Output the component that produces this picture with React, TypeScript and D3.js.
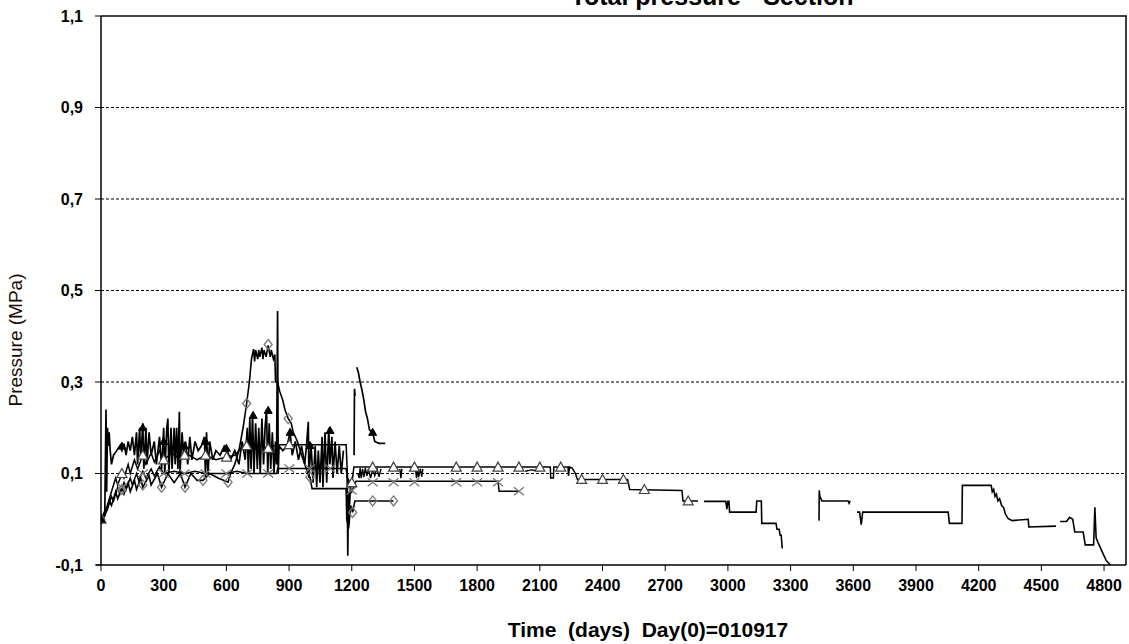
import React, { useEffect, useRef } from 'react';
import * as d3 from 'd3';

type P = [number, number | null];

const TITLE = 'Total pressure - Section';
const X_TITLE = 'Time  (days)  Day(0)=010917';
const Y_TITLE = 'Pressure (MPa)';
const X_TICKS = [0, 300, 600, 900, 1200, 1500, 1800, 2100, 2400, 2700, 3000, 3300, 3600, 3900, 4200, 4500, 4800];
const Y_TICKS = [-0.1, 0.1, 0.3, 0.5, 0.7, 0.9, 1.1];
const GRID = [0.1, 0.3, 0.5, 0.7, 0.9];

// diamond series
const diamondLine: P[] = [
  [0, 0.0], [10, 0.0], [20, 0.01], [40, 0.04], [50, 0.03], [70, 0.06], [80, 0.045], [100, 0.07], [110, 0.055],
  [130, 0.08], [140, 0.06], [160, 0.085], [170, 0.065], [190, 0.09], [200, 0.07], [230, 0.095], [240, 0.075],
  [270, 0.1], [290, 0.07], [320, 0.1], [350, 0.08], [380, 0.1], [402, 0.07], [430, 0.1], [460, 0.085], [488, 0.085],
  [520, 0.1], [560, 0.09], [608, 0.081], [620, 0.1], [640, 0.12], [660, 0.15], [680, 0.2], [697, 0.253], [710, 0.3],
  [720, 0.35], [730, 0.372], [735, 0.345], [740, 0.37], [750, 0.35], [755, 0.37], [760, 0.355], [770, 0.375],
  [775, 0.35], [780, 0.37], [790, 0.355], [800, 0.38], [810, 0.355], [815, 0.37], [825, 0.35], [832, 0.36],
  [835, 0.3], [845, 0.3], [855, 0.28], [870, 0.26], [880, 0.24], [896, 0.22],
  [910, 0.21], [920, 0.19], [940, 0.17], [960, 0.14], [975, 0.12], [990, 0.1], [1000, 0.092], [1010, 0.067],
  [1173, 0.067], [1176, 0.0], [1185, -0.02], [1195, 0.03], [1204, 0.015], [1215, 0.04], [1400, 0.04]
];
const diamondMarks: P[] = [
  [0, 0.0], [100, 0.065], [200, 0.075], [290, 0.07], [402, 0.07], [488, 0.085], [608, 0.081], [697, 0.253],
  [800, 0.382], [896, 0.22], [1000, 0.092], [1204, 0.015], [1300, 0.04], [1400, 0.04]
];

// x series
const crossLine: P[] = [
  [0, 0.0], [30, 0.02], [50, 0.05], [60, 0.04], [80, 0.07], [90, 0.055], [110, 0.08], [120, 0.065], [140, 0.09],
  [150, 0.075], [170, 0.1], [180, 0.085], [200, 0.105], [215, 0.09], [240, 0.11], [255, 0.095], [280, 0.115],
  [300, 0.1], [350, 0.105], [400, 0.1], [450, 0.105], [500, 0.1], [550, 0.1], [600, 0.1], [650, 0.105],
  [700, 0.1], [800, 0.1], [841, 0.1], [845, 0.111], [1173, 0.111], [1180, 0.085], [1200, 0.06], [1220, 0.083],
  [1900, 0.083], [1905, 0.061], [2000, 0.061]
];
const crossMarks: P[] = [
  [100, 0.07], [200, 0.1], [300, 0.1], [400, 0.1], [500, 0.1], [600, 0.1], [700, 0.1], [800, 0.1],
  [901, 0.111], [1000, 0.111], [1097, 0.111], [1200, 0.063], [1300, 0.081], [1400, 0.081], [1500, 0.081],
  [1700, 0.081], [1800, 0.081], [1900, 0.081], [2000, 0.061]
];

// open triangle series
const triLine: P[] = [
  [0, 0.0], [30, 0.03], [50, 0.06], [70, 0.09], [80, 0.075], [100, 0.1], [110, 0.09], [130, 0.12], [140, 0.1],
  [160, 0.13], [175, 0.11], [200, 0.14], [215, 0.12], [240, 0.145], [255, 0.125], [280, 0.15], [300, 0.13],
  [340, 0.145], [380, 0.13], [420, 0.14], [460, 0.13], [500, 0.14], [550, 0.13], [601, 0.136], [640, 0.14],
  [680, 0.16], [697, 0.161], [720, 0.15], [760, 0.16], [800, 0.155], [841, 0.163], [1173, 0.163], [1180, 0.09],
  [1200, 0.075], [1210, 0.114], [2150, 0.114], [2152, 0.09], [2165, 0.09], [2167, 0.114], [2235, 0.114],
  [2237, 0.095], [2242, 0.114], [2255, 0.112], [2270, 0.1], [2280, 0.087], [2520, 0.087], [2530, 0.065],
  [2780, 0.063], [2785, 0.04], [2857, 0.04]
];
const triMarks: P[] = [
  [0, 0.0], [100, 0.1], [200, 0.14], [300, 0.13], [400, 0.14], [500, 0.14], [601, 0.136], [697, 0.161],
  [800, 0.155], [901, 0.163], [1200, 0.08], [1300, 0.114], [1400, 0.114], [1500, 0.114], [1700, 0.114],
  [1800, 0.114], [1900, 0.114], [2000, 0.114], [2100, 0.114], [2200, 0.114], [2300, 0.087], [2400, 0.087],
  [2500, 0.087], [2600, 0.065], [2810, 0.04]
];

// filled triangle series (dense)
const fillLine: P[] = [
  [0, 0.0], [12, 0.0], [18, 0.01], [24, 0.24], [27, 0.06], [31, 0.2], [35, 0.16], [39, 0.19], [44, 0.15],
  [50, 0.12], [60, 0.14], [75, 0.15], [90, 0.16], [100, 0.15], [110, 0.165], [120, 0.14], [130, 0.17],
  [140, 0.15], [150, 0.18], [160, 0.14], [170, 0.19], [175, 0.12], [185, 0.2], [190, 0.13], [200, 0.21],
  [205, 0.11], [215, 0.2], [220, 0.12], [230, 0.19], [240, 0.14], [255, 0.17], [265, 0.12], [280, 0.18],
  [290, 0.11], [300, 0.2], [305, 0.1], [315, 0.2], [320, 0.22], [325, 0.1], [335, 0.2], [340, 0.11],
  [350, 0.2], [355, 0.12], [362, 0.2], [368, 0.11], [375, 0.235], [378, 0.1], [388, 0.19], [395, 0.14],
  [405, 0.17], [415, 0.12], [425, 0.18], [435, 0.13], [450, 0.17], [465, 0.15], [480, 0.16], [495, 0.18],
  [500, 0.09], [505, 0.19], [512, 0.1], [520, 0.17], [535, 0.13], [550, 0.15], [570, 0.14], [590, 0.16],
  [600, 0.155], [620, 0.13], [640, 0.15], [660, 0.12], [675, 0.17], [690, 0.13], [700, 0.2], [705, 0.1],
  [712, 0.22], [718, 0.11], [725, 0.23], [732, 0.1], [740, 0.21], [748, 0.11], [755, 0.2], [762, 0.1],
  [770, 0.22], [778, 0.12], [785, 0.2], [792, 0.24], [798, 0.1], [805, 0.21], [812, 0.11], [820, 0.19],
  [828, 0.1], [835, 0.17], [840, 0.12], [845, 0.455], [848, 0.1], [852, 0.16], [870, 0.15], [890, 0.16],
  [905, 0.19], [915, 0.14], [930, 0.17], [945, 0.13], [960, 0.16], [975, 0.12], [985, 0.17], [992, 0.213],
  [995, 0.09], [1005, 0.165], [1015, 0.08], [1025, 0.16], [1032, 0.07], [1040, 0.15], [1048, 0.08],
  [1058, 0.18], [1062, 0.07], [1072, 0.19], [1080, 0.08], [1090, 0.2], [1095, 0.12], [1105, 0.18],
  [1110, 0.09], [1120, 0.17], [1130, 0.1], [1140, 0.16], [1150, 0.1], [1160, 0.15], [1165, null],
  [1178, 0.1], [1181, -0.08], [1184, 0.06], [1188, 0.02], [1195, 0.08], [1200, null],
  [1211, 0.14], [1213, 0.285], [1216, 0.27], [1218, null],
  [1224, 0.332], [1232, 0.32], [1240, 0.3], [1250, 0.28], [1258, 0.26], [1266, 0.235], [1275, 0.22],
  [1285, 0.195], [1300, 0.19], [1310, 0.17], [1330, 0.166], [1360, 0.166]
];
const fillMarks: P[] = [
  [0, 0.0], [100, 0.16], [200, 0.2], [300, 0.17], [400, 0.16], [500, 0.17], [600, 0.155], [728, 0.227],
  [800, 0.238], [905, 0.19], [1000, 0.161], [1096, 0.194], [1300, 0.19]
];

// short wiggles near 0.1 after day 1200
const wiggleLine: P[] = [
  [1230, 0.1], [1235, 0.09], [1240, 0.112], [1245, 0.09], [1252, 0.11], [1258, 0.092], [1265, 0.112],
  [1272, 0.095], [1280, 0.11], [1290, 0.09], [1300, 0.11], [1310, 0.095], [1320, 0.112], [1330, 0.093],
  [1340, 0.11], [1342, null], [1430, 0.11], [1435, 0.09], [1440, 0.11], [1445, null],
  [1505, 0.11], [1510, 0.09], [1515, 0.112], [1520, 0.092], [1528, 0.11], [1535, 0.093], [1540, 0.11], [1542, null],
  [2030, 0.105], [2060, 0.108], [2090, 0.106], [2120, 0.109], [2150, null]
];

// long plain series on the right
const plainLine: P[] = [
  [2886, 0.039], [2990, 0.039], [2995, 0.022], [3000, 0.039], [3005, 0.039], [3008, 0.0155], [3135, 0.0155],
  [3138, 0.04], [3160, 0.04], [3162, -0.009], [3230, -0.009], [3235, -0.022], [3245, -0.022], [3250, -0.035],
  [3255, -0.035], [3260, -0.064], [3300, null],
  [3436, -0.003], [3437, 0.063], [3440, 0.05], [3445, 0.045], [3450, 0.04], [3575, 0.04], [3580, 0.035],
  [3585, 0.04], [3600, null],
  [3618, 0.0155], [3630, 0.0155], [3638, -0.012], [3645, 0.0155], [4054, 0.0155], [4060, -0.009],
  [4120, -0.009], [4122, 0.074], [4260, 0.074], [4265, 0.06], [4272, 0.065], [4278, 0.05], [4285, 0.055],
  [4292, 0.04], [4300, 0.045], [4310, 0.03], [4320, 0.025], [4327, 0.0125], [4340, 0.002], [4360, -0.003],
  [4437, 0.0], [4440, -0.017], [4570, -0.015], [4580, null],
  [4590, -0.005], [4620, -0.005], [4635, 0.004], [4650, 0.0], [4660, -0.028], [4700, -0.028], [4710, -0.056],
  [4750, -0.056], [4756, 0.026], [4762, -0.04], [4770, -0.05], [4780, -0.06], [4795, -0.075], [4810, -0.09],
  [4830, -0.1]
];

export default function App() {
  const ref = useRef<SVGSVGElement>(null);
  useEffect(() => {
    const svg = d3.select(ref.current);
    svg.selectAll('*').remove();
    const font = 'Liberation Sans, Arial, sans-serif';
    const x = d3.scaleLinear().domain([0, 4905]).range([101, 1126]);
    const y = d3.scaleLinear().domain([-0.1, 1.1]).range([565, 16]);

    svg.append('rect').attr('width', 1129).attr('height', 644).attr('fill', '#fff');

    // title (cut off at top, as in the reference)
    svg.append('text').attr('x', 712).attr('y', 5).attr('text-anchor', 'middle')
      .attr('font-family', font).attr('font-weight', 'bold').attr('font-size', 25).text(TITLE);

    // grid
    svg.append('g').selectAll('line').data(GRID).join('line')
      .attr('x1', x(0)).attr('x2', 1126).attr('y1', d => y(d)).attr('y2', d => y(d))
      .attr('stroke', '#000').attr('stroke-width', 1).attr('stroke-dasharray', '3,2');

    // frame
    svg.append('line').attr('x1', 101).attr('x2', 1127).attr('y1', y(1.1)).attr('y2', y(1.1))
      .attr('stroke', '#444').attr('stroke-width', 2);
    svg.append('line').attr('x1', 1126).attr('x2', 1126).attr('y1', y(1.1)).attr('y2', y(-0.1))
      .attr('stroke', '#000').attr('stroke-width', 1.5);

    const clip = svg.append('defs').append('clipPath').attr('id', 'pc');
    clip.append('rect').attr('x', 101).attr('y', 16).attr('width', 1025).attr('height', 549);

    const line = d3.line<P>().defined(d => d[1] !== null).x(d => x(d[0])).y(d => y(d[1] as number));
    const plot = svg.append('g').attr('clip-path', 'url(#pc)');
    const series: [P[], number][] = [
      [diamondLine, 1.6], [crossLine, 1.5], [triLine, 1.5], [fillLine, 1.7], [wiggleLine, 1.4], [plainLine, 1.6]
    ];
    series.forEach(([data, w]) => {
      plot.append('path').attr('d', line(data) as string).attr('fill', 'none')
        .attr('stroke', '#000').attr('stroke-width', w).attr('stroke-linejoin', 'miter');
    });

    const marks = (data: P[], path: string, fill: string, stroke: string, sw: number) => {
      plot.append('g').selectAll('path').data(data).join('path')
        .attr('transform', d => `translate(${x(d[0])},${y(d[1] as number)})`)
        .attr('d', path).attr('fill', fill).attr('stroke', stroke).attr('stroke-width', sw);
    };
    marks(diamondMarks, 'M0,-5L4,0L0,5L-4,0Z', 'none', '#777', 1.3);
    marks(crossMarks, 'M-5,-4L5,4M-5,4L5,-4', 'none', '#777', 1.3);
    marks(triMarks, 'M0,-5L5,4L-5,4Z', '#fff', '#444', 1.2);
    marks(fillMarks, 'M0,-4L4,3L-4,3Z', '#000', '#000', 1);

    // axes
    svg.append('line').attr('x1', 101).attr('x2', 101).attr('y1', 16).attr('y2', 565)
      .attr('stroke', '#000').attr('stroke-width', 1.5);
    svg.append('line').attr('x1', 96).attr('x2', 1126).attr('y1', 565).attr('y2', 565)
      .attr('stroke', '#000').attr('stroke-width', 1.5);

    const yg = svg.append('g');
    yg.selectAll('line').data(Y_TICKS).join('line')
      .attr('x1', 95).attr('x2', 101).attr('y1', d => y(d)).attr('y2', d => y(d)).attr('stroke', '#000');
    yg.selectAll('text').data(Y_TICKS).join('text')
      .attr('x', 83).attr('y', d => y(d)).attr('dy', '0.35em').attr('text-anchor', 'end')
      .attr('font-family', font).attr('font-weight', 'bold').attr('font-size', 16)
      .text(d => d3.format('.1f')(d).replace('.', ',').replace('−', '-'));

    const xg = svg.append('g');
    xg.selectAll('line').data(X_TICKS).join('line')
      .attr('x1', d => x(d)).attr('x2', d => x(d)).attr('y1', 565).attr('y2', 571).attr('stroke', '#000');
    xg.selectAll('text').data(X_TICKS).join('text')
      .attr('x', d => x(d)).attr('y', 591).attr('text-anchor', 'middle')
      .attr('font-family', font).attr('font-weight', 'bold').attr('font-size', 16).text(d => String(d));

    svg.append('text').attr('x', 648).attr('y', 637).attr('text-anchor', 'middle')
      .attr('font-family', font).attr('font-weight', 'bold').attr('font-size', 21)
      .attr('xml:space', 'preserve').style('white-space', 'pre').text(X_TITLE);
    svg.append('text').attr('transform', 'translate(22,340) rotate(-90)').attr('text-anchor', 'middle')
      .attr('font-family', font).attr('font-size', 19).attr('fill', '#1a0800').text(Y_TITLE);
  }, []);
  return (
    <div style={{ position: 'absolute', left: 0, top: 0 }}>
      <svg ref={ref} width={1129} height={644} style={{ display: 'block' }} />
    </div>
  );
}
